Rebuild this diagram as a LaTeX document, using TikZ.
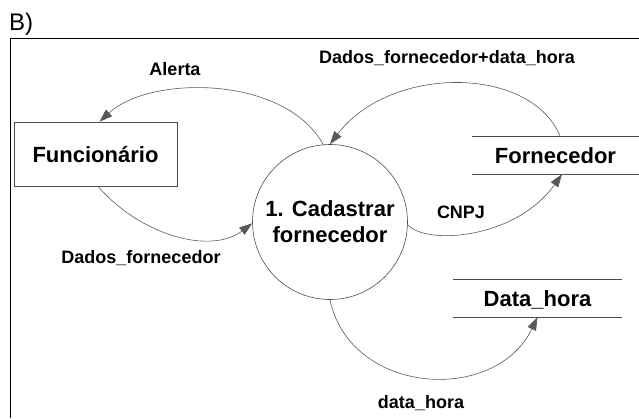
\documentclass[tikz,border=0pt]{standalone}
\usepackage{fontspec}
\setmainfont{Liberation Sans}
\usetikzlibrary{arrows.meta}
\begin{document}
\begin{tikzpicture}[x=1pt,y=-1pt,
  big/.style={font=\bfseries\fontsize{22}{26}\selectfont},
  lbl/.style={font=\bfseries\fontsize{18}{22}\selectfont, inner sep=0pt, anchor=base},
  flow/.style={draw=black!65, line width=0.6pt, -{Triangle[length=13pt,width=9pt]}},
  thinline/.style={draw=black!70, line width=0.6pt},
  store/.style={big, minimum height=38pt, inner sep=0pt, text height=16pt, text depth=0pt}
]
\useasboundingbox (0,0) rectangle (639,418);
% frame
\draw[line width=1pt] (10,418) -- (10,38) -- (639,38);
\node[font=\fontsize{24}{28}\selectfont, inner sep=0pt, anchor=base west] (title) at (9,30) {B)};

% nodes
\node[big, thinline, draw, minimum width=163pt, minimum height=64pt, inner sep=0pt,
      text height=16pt, text depth=0pt] (func) at (95.5,154) {Funcionário};
\node[big, circle, thinline, draw, minimum size=155pt, inner sep=0pt, align=center]
      (proc) at (330,222) {1. Cadastrar\\fornecedor};
\node[store, minimum width=167pt] (forn) at (555.5,155) {Fornecedor};
\draw[thinline] (forn.north west) -- (forn.north east) (forn.south west) -- (forn.south east);
\node[store, minimum width=169pt] (dh) at (537.5,298) {Data\_hora};
\draw[thinline] (dh.north west) -- (dh.north east) (dh.south west) -- (dh.south east);

% flows
\draw[flow] (proc.95) .. controls (285,75) and (150,75) .. ([xshift=4pt]func.north);
\draw[flow] ([xshift=4.5pt]forn.north) .. controls (530,65) and (390,65) .. (proc.north);
\draw[flow] ([xshift=2.5pt]func.south) .. controls (140,235) and (210,255) .. (proc.181);
\draw[flow] (proc.-2) .. controls (425,245) and (515,240) .. ([xshift=6.5pt]forn.south);
\draw[flow] (proc.south) .. controls (350,395) and (495,405) .. (dh.south);

% labels
\node[lbl] (lalert) at (175,75) {Alerta};
\node[lbl] (ldfdh) at (447,63) {Dados\_fornecedor+data\_hora};
\node[lbl] (ldf) at (141,263) {Dados\_fornecedor};
\node[lbl] (lcnpj) at (461,218) {CNPJ};
\node[lbl] (ldh) at (421,408) {data\_hora};
\end{tikzpicture}
\end{document}
